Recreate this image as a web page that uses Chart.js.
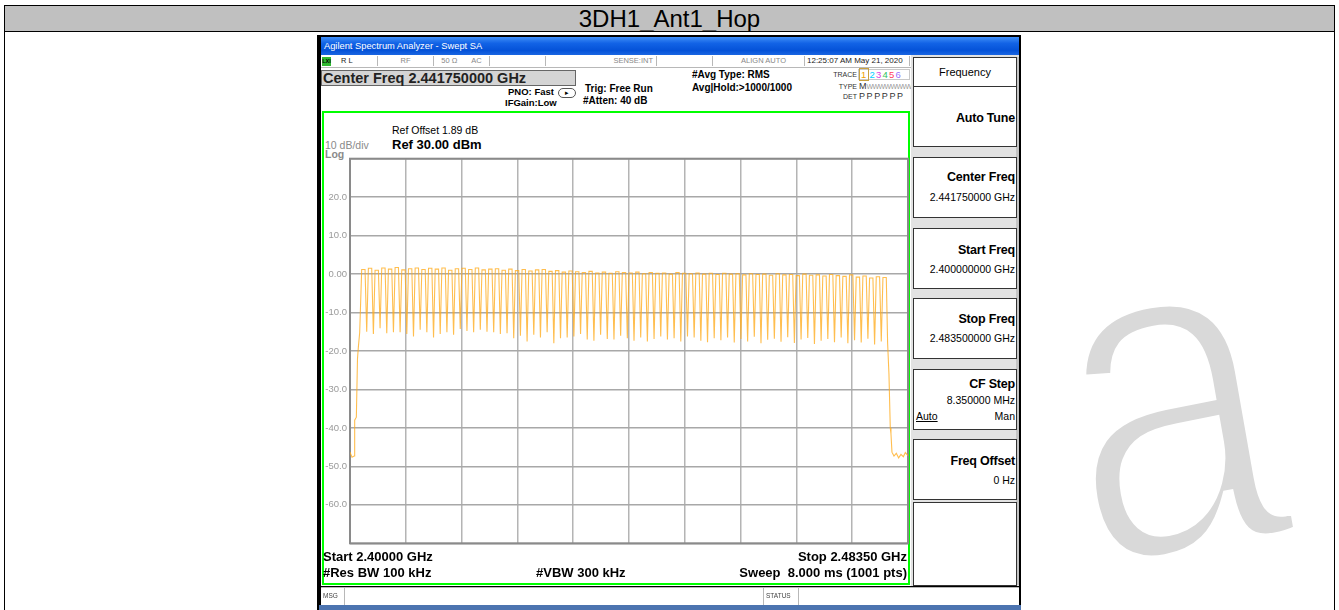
<!DOCTYPE html>
<html><head><meta charset="utf-8">
<script src="https://cdn.jsdelivr.net/npm/chart.js@4.4.0/dist/chart.umd.min.js"></script>
<style>
body{margin:0;width:1339px;height:610px;overflow:hidden;background:#fff;position:relative;font-family:'Liberation Sans',Arial,Helvetica,sans-serif;color:#000}
.a{position:absolute;white-space:nowrap}
.b{font-weight:bold}
.btn{position:absolute;left:913px;width:102px;background:#fff;border:1px solid #333;}
.lab{position:absolute;right:1px;font-weight:bold;font-size:12.5px;line-height:14px;white-space:nowrap;letter-spacing:-0.2px}
.val{position:absolute;right:1px;font-size:10.5px;line-height:12px;white-space:nowrap}
.cell{position:absolute;top:0;height:10px;border-right:1px solid #b8b8b8;font-size:7.5px;line-height:10px;color:#888;text-align:center}
#wm{left:1036px;top:147px;font-size:472px;line-height:472px;color:#d9d9d9;-webkit-text-stroke:14px #fff;transform-origin:180px 300px;transform:rotate(-10deg) scaleX(0.82)}
</style></head>
<body>
<div id="wm" class="a">a</div>
<div class="a" style="left:4px;top:5px;width:1329px;height:640px;border:1px solid #000"></div>
<div class="a" style="left:4px;top:5px;width:1329px;height:25px;background:#c0c0c0;border:1px solid #000;text-align:center;font-size:24px;line-height:25px">3DH1_Ant1_Hop</div>

<!-- analyzer screenshot -->
<div class="a" style="left:317px;top:35px;width:704px;height:580px;background:#000"></div>
<div class="a" style="left:321px;top:37px;width:698px;height:18px;background:linear-gradient(#3f8ef6,#1263e6 35%,#0452d8 75%,#1a66e2);color:#fff;font-size:9.3px;line-height:18px;padding-left:3px;box-sizing:border-box">Agilent Spectrum Analyzer - Swept SA</div>
<div class="a" style="left:321px;top:55px;width:698px;height:531px;background:#fff"></div>

<!-- status row -->
<div class="a" style="left:321px;top:56px;width:590px;height:11px;border-bottom:1px solid #b8b8b8;background:#fff">
  <div class="cell" style="left:0;width:56px;text-align:left;color:#222">
    <span style="position:absolute;left:1px;top:1px;width:9px;height:9px;background:#2fb82f;color:#000;font-size:5.5px;line-height:9px;text-align:center;font-weight:bold">LXI</span>
    <span style="position:absolute;left:20px">R L</span></div>
  <div class="cell" style="left:57px;width:55px">RF</div>
  <div class="cell" style="left:113px;width:55px"><span style="margin-right:14px">50 Ω</span>AC</div>
  <div class="cell" style="left:169px;width:55px"></div>
  <div class="cell" style="left:225px;width:110px;text-align:right"><span style="margin-right:3px">SENSE:INT</span></div>
  <div class="cell" style="left:336px;width:55px"></div>
  <div class="cell" style="left:392px;width:91px;text-align:right"><span style="margin-right:18px">ALIGN AUTO</span></div>
  <div class="cell" style="left:484px;width:105px;color:#222;font-size:8px;text-align:left;padding-left:2px;box-sizing:border-box">12:25:07 AM May 21, 2020</div>
</div>

<!-- header info -->
<div class="a" style="left:321px;top:70px;width:255px;height:16px;background:#d4d4d4;border:1px solid #666;box-sizing:border-box"></div>
<div class="a b" style="left:323px;top:70px;font-size:14.5px;line-height:16px;color:#222">Center Freq 2.441750000 GHz</div>
<div class="a b" style="left:508px;top:86px;font-size:9.5px;line-height:12px">PNO: Fast</div>
<div class="a" style="left:558px;top:88px;width:16px;height:8px;border:1px solid #555;border-radius:5px;font-size:7px;line-height:8px;text-align:center">&#9656;</div>
<div class="a b" style="left:505px;top:97px;font-size:9.5px;line-height:12px">IFGain:Low</div>
<div class="a b" style="left:585px;top:83px;font-size:10px;line-height:12px">Trig: Free Run</div>
<div class="a b" style="left:583px;top:95px;font-size:10px;line-height:12px">#Atten: 40 dB</div>
<div class="a b" style="left:692px;top:69px;font-size:10px;line-height:12px">#Avg Type: RMS</div>
<div class="a b" style="left:692px;top:82px;font-size:10px;line-height:12px">Avg|Hold:&gt;1000/1000</div>
<div class="a" style="left:826px;top:70px;width:31px;text-align:right;font-size:7px;line-height:9px;color:#333">TRACE</div>
<div class="a" style="left:826px;top:82px;width:31px;text-align:right;font-size:7px;line-height:9px;color:#333">TYPE</div>
<div class="a" style="left:826px;top:92px;width:31px;text-align:right;font-size:7px;line-height:9px;color:#333">DET</div>
<div class="a" style="left:858px;top:69px;width:52px;height:11px;border:1px solid #c8c8c8;box-sizing:border-box;font-size:9.5px;line-height:10px;letter-spacing:1.2px">
  <span style="color:#f0a000;border:1px solid #c8a040;padding:0 1px">1</span><span style="color:#00d0ff">2</span><span style="color:#e040e0">3</span><span style="color:#30c060">4</span><span style="color:#ff4060">5</span><span style="color:#9a70ff">6</span></div>
<div class="a" style="left:859px;top:81px;font-size:9px;line-height:10px;color:#333">M<span style="color:#999;font-size:7px;letter-spacing:-0.6px">WWWWWWWWWW</span></div>
<div class="a" style="left:859px;top:91px;font-size:9px;line-height:10px;color:#333;letter-spacing:1.6px">PPPPPP</div>

<!-- display frame -->
<div class="a" style="left:322px;top:111px;width:588px;height:474px;border:2px solid #00ff00;box-sizing:border-box"></div>
<div class="a" style="left:392px;top:124px;font-size:10.5px;line-height:13px">Ref Offset 1.89 dB</div>
<div class="a b" style="left:392px;top:137px;font-size:13px;line-height:15px">Ref 30.00 dBm</div>
<div class="a" style="left:325px;top:139px;font-size:10.5px;line-height:12px;color:#8a8a8a">10 dB/div</div>
<div class="a b" style="left:325px;top:148px;font-size:10.5px;line-height:12px;color:#8a8a8a">Log</div>
<canvas id="c" class="a" width="592" height="402" style="left:320px;top:150px;width:592px;height:402px"></canvas>
<div class="a b" style="left:323px;top:549px;font-size:13px;line-height:15px">Start 2.40000 GHz</div>
<div class="a b" style="left:323px;top:565px;font-size:13px;line-height:15px">#Res BW 100 kHz</div>
<div class="a b" style="left:536px;top:565px;font-size:13px;line-height:15px">#VBW 300 kHz</div>
<div class="a b" style="right:432px;top:549px;font-size:13px;line-height:15px">Stop 2.48350 GHz</div>
<div class="a b" style="right:432px;top:565px;font-size:13px;line-height:15px">Sweep&nbsp; 8.000 ms (1001 pts)</div>

<!-- right softkey panel -->
<div class="a" style="left:911px;top:55px;width:108px;height:531px;background:#e2e2e2"></div>
<div class="a" style="left:1016px;top:57px;width:3px;height:528px;background:#c4c4c4"></div>
<div class="btn" style="top:57px;height:28px;text-align:center;font-size:11px;line-height:28px">Frequency</div>
<div class="btn" style="top:86px;height:59px"><div class="lab" style="top:24px">Auto Tune</div></div>
<div class="btn" style="top:157px;height:59px"><div class="lab" style="top:12px">Center Freq</div><div class="val" style="top:33px">2.441750000 GHz</div></div>
<div class="btn" style="top:228px;height:59px"><div class="lab" style="top:14px">Start Freq</div><div class="val" style="top:34px">2.400000000 GHz</div></div>
<div class="btn" style="top:298px;height:59px"><div class="lab" style="top:13px">Stop Freq</div><div class="val" style="top:33px">2.483500000 GHz</div></div>
<div class="btn" style="top:369px;height:59px"><div class="lab" style="top:7px">CF Step</div><div class="val" style="top:24px">8.350000 MHz</div>
  <div class="val" style="top:40px;left:2px;right:auto;text-decoration:underline">Auto</div><div class="val" style="top:40px">Man</div></div>
<div class="btn" style="top:439px;height:59px"><div class="lab" style="top:14px">Freq Offset</div><div class="val" style="top:34px">0 Hz</div></div>
<div class="btn" style="top:502px;height:82px"></div>

<!-- message row -->
<div class="a" style="left:321px;top:587px;width:698px;height:18px;background:#fff;border-top:1px solid #b8b8b8;box-sizing:border-box"></div>
<div class="a" style="left:321px;top:587px;width:21px;height:18px;border-right:1px solid #b8b8b8;font-size:6.5px;line-height:17px;color:#444;padding-left:2px">MSG</div>
<div class="a" style="left:763px;top:587px;width:36px;height:18px;border-left:1px solid #b8b8b8;border-right:1px solid #b8b8b8;font-size:6.5px;line-height:17px;color:#444;padding-left:2px;box-sizing:border-box">STATUS</div>
<div class="a" style="left:319px;top:605px;width:702px;height:5px;background:#4c74b0"></div>

<script>
// ---- data ----
const startFreqMHz = 2400.0;
const stopFreqMHz = 2483.5;
const xGridMHz = [2400, 2408.35, 2416.7, 2425.05, 2433.4, 2441.75, 2450.1, 2458.45, 2466.8, 2475.15, 2483.5];
const yTickValues = [30, 20, 10, 0, -10, -20, -30, -40, -50, -60, -70];
const yTickLabels = ['', '20.0', '10.0', '0.00', '-10.0', '-20.0', '-30.0', '-40.0', '-50.0', '-60.0', ''];

const channelCenters = [2402,2403,2404,2405,2406,2407,2408,2409,2410,2411,2412,2413,2414,2415,2416,2417,2418,2419,2420,2421,
  2422,2423,2424,2425,2426,2427,2428,2429,2430,2431,2432,2433,2434,2435,2436,2437,2438,2439,2440,2441,
  2442,2443,2444,2445,2446,2447,2448,2449,2450,2451,2452,2453,2454,2455,2456,2457,2458,2459,2460,2461,
  2462,2463,2464,2465,2466,2467,2468,2469,2470,2471,2472,2473,2474,2475,2476,2477,2478,2479,2480];
// flat top level of each hopping channel (dBm)
const channelPeak = [1.2,1.5,1.0,1.6,1.3,1.7,1.1,1.4,1.6,1.2,
  1.5,1.3,1.6,1.0,1.4,1.5,1.2,1.6,1.1,1.3,
  1.4,1.0,1.3,0.9,1.2,0.8,1.1,1.2,0.7,0.9,
  0.5,0.8,0.6,0.4,0.7,0.3,0.5,0.2,0.6,0.4,
  0.3,0.5,0.1,0.4,0.2,0.3,0.0,0.4,0.2,0.1,
  0.3,0.0,0.2,-0.1,0.2,0.0,0.1,-0.2,0.1,-0.1,
  0.0,-0.3,0.1,-0.2,-0.1,-0.4,0.0,-0.3,-0.2,-0.5,
  -0.1,-0.4,-0.6,-0.2,-0.8,-0.5,-1.0,-0.7,-0.9];
// minimum level between neighbouring channels (dBm)
const channelDip = [-15.0,-15.6,-14.1,-15.4,-15.1,-15.1,-15.6,-16.2,-14.5,-15.1,
  -16.5,-15.6,-15.1,-15.8,-14.3,-14.8,-15.1,-14.5,-15.0,-15.1,
  -15.6,-15.4,-16.7,-16.0,-17.5,
  -15.8,-16.5,-15.1,-18.0,-16.7,-16.5,-16.2,-15.6,-17.0,-17.3,
  -15.8,-16.9,-17.0,-16.0,-16.7,-17.3,-16.5,-17.5,-16.9,-16.2,
  -17.0,-16.7,-17.5,-16.2,-16.5,-17.3,-17.7,-16.7,
  -17.2,-16.5,-17.8,-16.9,-17.5,-16.3,-18.0,-17.1,-16.8,-17.6,
  -16.4,-17.9,-17.0,-16.6,-18.2,-17.3,-16.9,-17.7,-16.5,-18.0,
  -17.2,-17.8,-16.8,-18.3,-17.5];
// band edges
const leftEdgeFreq = [2400.00, 2400.30, 2400.62, 2400.70, 2400.95, 2401.12, 2401.25, 2401.45];
const leftEdgeLevel = [-46.3, -47.6, -47.3, -38.0, -37.2, -22.0, -19.0, -15.2];
const rightEdgeFreq = [2480.45, 2480.65, 2480.85, 2480.95, 2481.10, 2481.40, 2481.75, 2482.10, 2482.45, 2482.80, 2483.10, 2483.50];
const rightEdgeLevel = [-18.0, -26.0, -40.0, -41.5, -46.3, -47.3, -46.6, -47.8, -46.9, -47.5, -46.4, -47.2];

// ---- build trace points from the arrays ----
const trace = [];
leftEdgeFreq.forEach((f, i) => trace.push({x: f, y: leftEdgeLevel[i]}));
channelCenters.forEach((c, k) => {
  trace.push({x: c - 0.25, y: channelPeak[k]});
  trace.push({x: c + 0.25, y: channelPeak[k]});
  if (k < channelDip.length) trace.push({x: c + 0.5, y: channelDip[k]});
});
rightEdgeFreq.forEach((f, i) => trace.push({x: f, y: rightEdgeLevel[i]}));

const framePlugin = {
  id: 'frame',
  beforeDatasetsDraw(chart) {
    const a = chart.chartArea, ctx = chart.ctx;
    ctx.save();
    ctx.strokeStyle = '#8a8a8a';
    ctx.lineWidth = 2;
    ctx.strokeRect(a.left, a.top, a.right - a.left, a.bottom - a.top);
    ctx.restore();
  }
};

new Chart(document.getElementById('c'), {
  type: 'line',
  data: {datasets: [{
    data: trace,
    borderColor: 'rgba(255,172,30,0.78)',
    borderWidth: 1.1,
    pointRadius: 0,
    tension: 0,
    fill: false
  }]},
  options: {
    responsive: false,
    devicePixelRatio: 1,
    animation: false,
    events: [],
    layout: {padding: {top: 5, right: 4, bottom: 5, left: 0}},
    plugins: {legend: {display: false}, tooltip: {enabled: false}},
    scales: {
      x: {
        type: 'linear', min: startFreqMHz, max: stopFreqMHz,
        afterBuildTicks: s => { s.ticks = xGridMHz.map(v => ({value: v})); },
        afterFit: s => { s.height = 0; },
        ticks: {display: false},
        grid: {color: '#b4b4b4', lineWidth: 1.5, drawTicks: false},
        border: {display: false}
      },
      y: {
        min: -70, max: 30,
        afterBuildTicks: s => { s.ticks = yTickValues.map(v => ({value: v})); },
        afterFit: s => { s.width = 30; },
        ticks: {
          padding: 3,
          color: '#9a9a9a',
          font: {family: "'Liberation Sans', Arial, sans-serif", size: 9.5},
          callback: (v) => { const i = yTickValues.indexOf(v); return i >= 0 ? yTickLabels[i] : ''; }
        },
        grid: {color: '#a8a8a8', lineWidth: 1.5, drawTicks: false},
        border: {display: false}
      }
    }
  },
  plugins: [framePlugin]
});
</script>
</body></html>
